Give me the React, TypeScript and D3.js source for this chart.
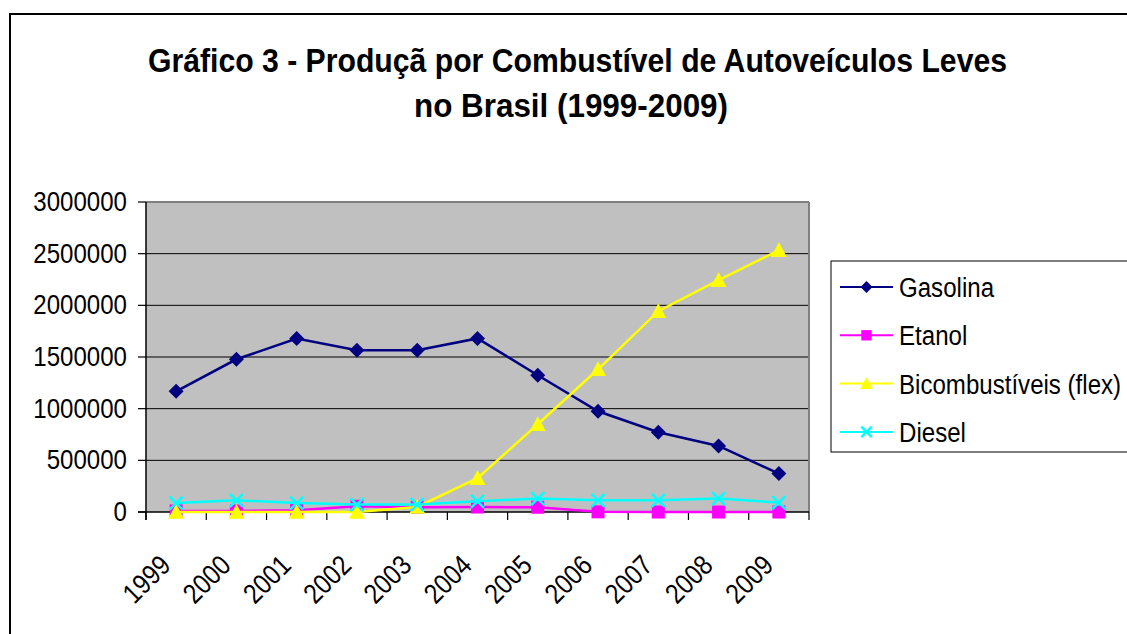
import React from "react";
import * as d3 from "d3";

const years = ["1999", "2000", "2001", "2002", "2003", "2004", "2005", "2006", "2007", "2008", "2009"];
const gasolina = [1168000, 1478000, 1678000, 1565000, 1565000, 1680000, 1323000, 975000, 772000, 639000, 372000];
const etanol = [10000, 10000, 18000, 55000, 45000, 48000, 46000, 1500, 0, 0, 0];
const flex = [0, 0, 0, 0, 49000, 328000, 849000, 1381000, 1943000, 2243000, 2533000];
const diesel = [87000, 113000, 87000, 72000, 72000, 103000, 130000, 113000, 113000, 130000, 91000];
const yTicks = [0, 500000, 1000000, 1500000, 2000000, 2500000, 3000000];
const seriesNames = ["Gasolina", "Etanol", "Bicombustíveis (flex)", "Diesel"];
const titleLines = ["Gráfico 3 - Produçã por Combustível de Autoveículos Leves", "no Brasil (1999-2009)"];

const colors = ["#000080", "#FF00FF", "#FFFF00", "#00FFFF"];
const markers = ["diamond", "square", "triangle", "x"];
const FONT = "'Liberation Sans', Arial, sans-serif";

function Marker({ type, x, y, color, s = 1 }: { type: string; x: number; y: number; color: string; s?: number }) {
  if (type === "diamond") {
    const r = 7.5 * s;
    return <path d={`M${x},${y - r}L${x + r},${y}L${x},${y + r}L${x - r},${y}Z`} fill={color} />;
  }
  if (type === "square") {
    const r = 6.5 * s;
    return <rect x={x - r} y={y - r} width={2 * r} height={2 * r} fill={color} />;
  }
  if (type === "triangle") {
    const r = 8 * s;
    return <path d={`M${x},${y - r}L${x + r},${y + r * 0.85}L${x - r},${y + r * 0.85}Z`} fill={color} />;
  }
  const r = 6.5 * s;
  return (
    <path d={`M${x - r},${y - r}L${x + r},${y + r}M${x - r},${y + r}L${x + r},${y - r}`} stroke={color} strokeWidth={2.5} fill="none" />
  );
}

export default function App() {
  const left = 146, right = 809, top = 202, bottom = 512;
  const x = d3.scaleBand<string>().domain(years).range([left, right]).paddingInner(0).paddingOuter(0);
  const cx = (d: string) => (x(d) as number) + x.bandwidth() / 2;
  const y = d3.scaleLinear().domain([0, 3000000]).range([bottom, top]);
  const all = [gasolina, etanol, flex, diesel];
  const line = d3.line<number>().x((_, i) => cx(years[i])).y((v) => y(v));
  const sx = 0.86;
  const fs = 28;

  const boundaries = d3.range(years.length + 1).map((i) => left + i * x.bandwidth());

  return (
    <svg width={1127} height={634} style={{ position: "absolute", left: 0, top: 0, background: "#fff" }}>
      <rect x={10} y={14} width={1300} height={800} fill="#fff" stroke="#000" strokeWidth={2} />
      <text x={148} y={72} fontFamily={FONT} fontWeight="bold" fontSize={33} textLength={859} lengthAdjust="spacingAndGlyphs">
        {titleLines[0]}
      </text>
      <text x={414} y={117} fontFamily={FONT} fontWeight="bold" fontSize={33} textLength={314} lengthAdjust="spacingAndGlyphs">
        {titleLines[1]}
      </text>

      <rect x={left} y={top} width={right - left} height={bottom - top} fill="#C0C0C0" />
      {yTicks.slice(1).map((t) => (
        <line key={t} x1={left} x2={right} y1={y(t)} y2={y(t)} stroke="#000" strokeWidth={1} />
      ))}
      <line x1={left} x2={right} y1={top} y2={top} stroke="#808080" strokeWidth={2} />
      <line x1={right} x2={right} y1={top} y2={bottom} stroke="#808080" strokeWidth={2} />
      <line x1={left} x2={left} y1={top} y2={bottom + 8} stroke="#000" strokeWidth={1.5} />
      <line x1={left - 8} x2={right} y1={bottom} y2={bottom} stroke="#000" strokeWidth={1.5} />
      {yTicks.map((t) => (
        <g key={t}>
          <line x1={left - 8} x2={left} y1={y(t)} y2={y(t)} stroke="#000" strokeWidth={1.2} />
          <text
            transform={`translate(127,${y(t) + 9}) scale(${sx},1)`}
            textAnchor="end"
            fontFamily={FONT}
            fontSize={fs}
          >
            {String(t)}
          </text>
        </g>
      ))}
      {boundaries.map((b, i) => (
        <line key={i} x1={b} x2={b} y1={bottom} y2={bottom + 8} stroke="#000" strokeWidth={1.2} />
      ))}
      {years.map((yr) => (
        <text
          key={yr}
          transform={`translate(${cx(yr) - 4},${bottom + 55}) rotate(-45) scale(${sx},1)`}
          textAnchor="end"
          fontFamily={FONT}
          fontSize={fs}
        >
          {yr}
        </text>
      ))}

      {all.map((vals, si) => (
        <g key={si}>
          <path d={line(vals) as string} fill="none" stroke={colors[si]} strokeWidth={2.5} />
          {vals.map((v, i) => (
            <Marker key={i} type={markers[si]} x={cx(years[i])} y={y(v)} color={colors[si]} />
          ))}
        </g>
      ))}

      <rect x={831} y={261} width={400} height={191} fill="#fff" stroke="#000" strokeWidth={1} />
      {seriesNames.map((n, i) => {
        const ly = 287 + i * 48.3;
        return (
          <g key={n}>
            <line x1={840} x2={893} y1={ly} y2={ly} stroke={colors[i]} strokeWidth={2} />
            <Marker type={markers[i]} x={866.5} y={ly} color={colors[i]} s={0.8} />
            <text transform={`translate(899,${ly + 10}) scale(${sx},1)`} fontFamily={FONT} fontSize={fs}>
              {n}
            </text>
          </g>
        );
      })}
    </svg>
  );
}
